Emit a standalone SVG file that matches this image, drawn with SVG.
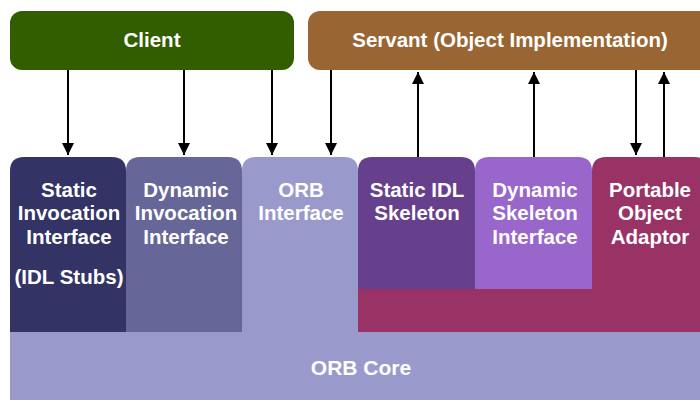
<svg xmlns="http://www.w3.org/2000/svg" width="700" height="401" viewBox="0 0 700 401">
<defs>
<style>
.t{font-family:"Liberation Sans",Arial,sans-serif;font-weight:bold;font-size:20.5px;fill:#ffffff;text-anchor:middle}
.c{stroke:#000;stroke-width:2;fill:none}
</style>
<marker id="ah" viewBox="0 0 12 16" refX="12" refY="6" markerWidth="12" markerHeight="16" markerUnits="userSpaceOnUse" orient="auto">
<path d="M0,0 L16,6 L0,12 Z" fill="#000" transform="scale(0.75,1)"/>
</marker>
</defs>
<rect width="700" height="401" fill="#fff"/>
<g id="orb-core">
<rect x="10" y="330" width="690" height="70" fill="#9999cc"/>
<text class="t" x="361" y="375" style="font-size:21px">ORB Core</text>
</g>
<g id="client">
<rect x="10" y="11" width="284" height="59" rx="12" fill="#335e00"/>
<text class="t" x="152" y="47">Client</text>
</g>
<g id="servant">
<rect x="308" y="11" width="404" height="59" rx="12" fill="#996633"/>
<text class="t" x="510" y="47">Servant (Object Implementation)</text>
</g>
<g id="static-invocation">
<path d="M10,332 V171 Q10,157 24,157 H112 Q126,157 126,171 V332 Z" fill="#333366"/>
<text class="t" x="69" y="197">Static</text>
<text class="t" x="69" y="220">Invocation</text>
<text class="t" x="69" y="244">Interface</text>
<text class="t" x="69" y="284">(IDL Stubs)</text>
</g>
<g id="dynamic-invocation">
<path d="M126,332 V171 Q126,157 140,157 H228 Q242,157 242,171 V332 Z" fill="#666699"/>
<text class="t" x="186" y="197">Dynamic</text>
<text class="t" x="186" y="220">Invocation</text>
<text class="t" x="186" y="244">Interface</text>
</g>
<g id="orb-interface">
<path d="M242,334 V171 Q242,157 256,157 H344 Q358,157 358,171 V334 Z" fill="#9999cc"/>
<text class="t" x="301" y="197">ORB</text>
<text class="t" x="301" y="220">Interface</text>
</g>
<g id="poa-bar">
<rect x="358" y="288" width="342" height="44" fill="#993366"/>
</g>
<g id="static-skeleton">
<path d="M358,289 V171 Q358,157 372,157 H461 Q475,157 475,171 V289 Z" fill="#66408c"/>
<text class="t" x="417" y="197">Static IDL</text>
<text class="t" x="417" y="220">Skeleton</text>
</g>
<g id="dynamic-skeleton">
<path d="M475,289 V171 Q475,157 489,157 H578 Q592,157 592,171 V289 Z" fill="#9966cc"/>
<text class="t" x="535" y="197">Dynamic</text>
<text class="t" x="535" y="220">Skeleton</text>
<text class="t" x="535" y="244">Interface</text>
</g>
<g id="poa">
<path d="M592,332 V171 Q592,157 606,157 H694 Q708,157 708,171 V332 Z" fill="#993366"/>
<text class="t" x="650" y="197">Portable</text>
<text class="t" x="650" y="220">Object</text>
<text class="t" x="650" y="244">Adaptor</text>
</g>
<g id="connectors">
<line class="c" x1="68" y1="70" x2="68" y2="155" marker-end="url(#ah)"/>
<line class="c" x1="184" y1="70" x2="184" y2="155" marker-end="url(#ah)"/>
<line class="c" x1="272" y1="70" x2="272" y2="155" marker-end="url(#ah)"/>
<line class="c" x1="331" y1="70" x2="331" y2="155" marker-end="url(#ah)"/>
<line class="c" x1="418" y1="157" x2="418" y2="72" marker-end="url(#ah)"/>
<line class="c" x1="534" y1="157" x2="534" y2="72" marker-end="url(#ah)"/>
<line class="c" x1="636" y1="70" x2="636" y2="155" marker-end="url(#ah)"/>
<line class="c" x1="664" y1="157" x2="664" y2="72" marker-end="url(#ah)"/>
</g>
</svg>
